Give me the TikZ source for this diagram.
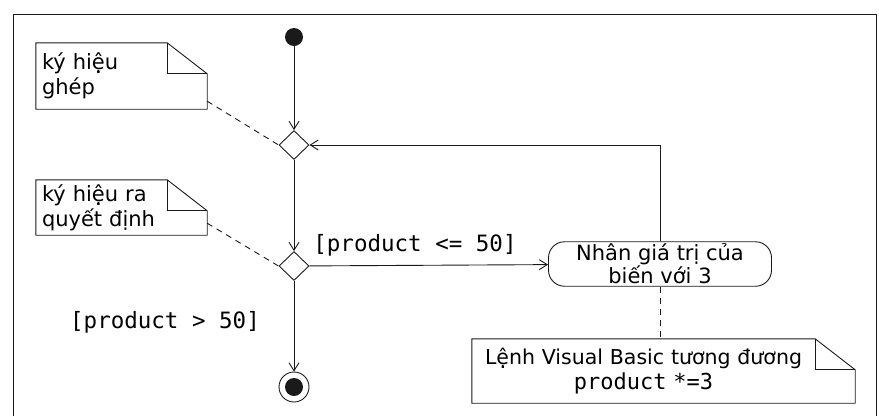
\documentclass[tikz,border=0pt]{standalone}
\usepackage{fontspec}
\setmainfont{DejaVu Sans}
\setmonofont{DejaVu Sans Mono}
\usepackage{tikz}
\usetikzlibrary{arrows.meta, shapes.geometric}
\definecolor{Ink}{HTML}{1A1A1A}
\tikzset{
  line/.style={draw=Ink, line width=0.9pt},
  arr/.style={line, -{Straight Barb[length=8pt, width=10pt]}},
  dashline/.style={line, dash pattern=on 6pt off 5pt},
  notebox/.style={
    rectangle, text width=#1, align=left,
    inner xsep=6pt, inner ysep=3pt,
    font=\fontsize{21}{25}\selectfont
  },
  notebox/.default=119pt,
  actbox/.style={
    rectangle, rounded corners=16pt, line,
    minimum width=223pt, minimum height=42pt,
    align=center, inner sep=2pt, font=\fontsize{21}{21}\selectfont
  },
  diam/.style={diamond, line, aspect=1, inner sep=0pt,
    minimum width=30pt, minimum height=29pt},
  startdot/.style={circle, fill=Ink, inner sep=0pt, minimum size=18pt},
  enddot/.style={circle, line, inner sep=0pt, minimum size=30pt,
    path picture={\fill[Ink] (path picture bounding box.center) circle (9pt);}},
  guard/.style={font=\ttfamily\fontsize{22.5}{24}\selectfont, inner sep=0pt},
}
% outline of a note with its dog-ear to the right of the node
\newcommand{\foldnote}[1]{%
  \draw[line] (#1.north west) -- (#1.north east)
    -- ([xshift=40pt, yshift=-31pt]#1.north east)
    -- ([xshift=40pt]#1.south east) -- (#1.south west) -- cycle;
  \draw[line] (#1.north east) |- ([xshift=40pt, yshift=-31pt]#1.north east);
}
\begin{document}
\begin{tikzpicture}[x=1pt, y=-1pt]
\useasboundingbox (0,0) rectangle (879,416);

% frame, open at the bottom
\draw[line] (13,416) -- (13,14) -- (876,14) -- (876,416);

\node[startdot] (start) at (294,37) {};
\node[diam] (merge) at (294,145) {};
\node[diam] (decide) at (294,266) {};
\node[enddot] (end) at (294,387) {};

\node[actbox] (act) at (660,264) {Nhân giá trị của\\biến với 3};

\node[notebox, minimum height=66pt] (nMerge) at (101.5,76) {ký hiệu\\ghép};
\node[notebox, minimum height=55pt] (nDecide) at (101.5,207.5) {ký hiệu ra\\quyết định};
\node[notebox=323pt, inner xsep=10pt, align=center, minimum height=64pt, font=\fontsize{20.5}{25}\selectfont] (nVB) at (643.5,371)
  {Lệnh Visual Basic tương đương\\{\ttfamily\fontsize{22}{25}\selectfont product *=3}};
\foldnote{nMerge}
\foldnote{nDecide}
\foldnote{nVB}

\node[guard] (gLe) at (415,245) {[product <= 50]};
\node[guard] (gGt) at (165,322) {[product > 50]};

% flow
\draw[arr] (start) -- (merge);
\draw[arr] (merge) -- (decide);
\draw[arr] (decide) -- (act);
\draw[arr] (decide) -- (end);
\draw[arr] (act.north) |- (merge.east);

% anchors of the notes
\draw[dashline] ([xshift=40pt, yshift=8pt]nMerge.south east) -- (merge.west);
\draw[dashline] ([xshift=40pt, yshift=12pt]nDecide.south east) -- (decide.west);
\draw[dashline] (act.south) -- (act.south |- nVB.north);

\end{tikzpicture}
\end{document}
